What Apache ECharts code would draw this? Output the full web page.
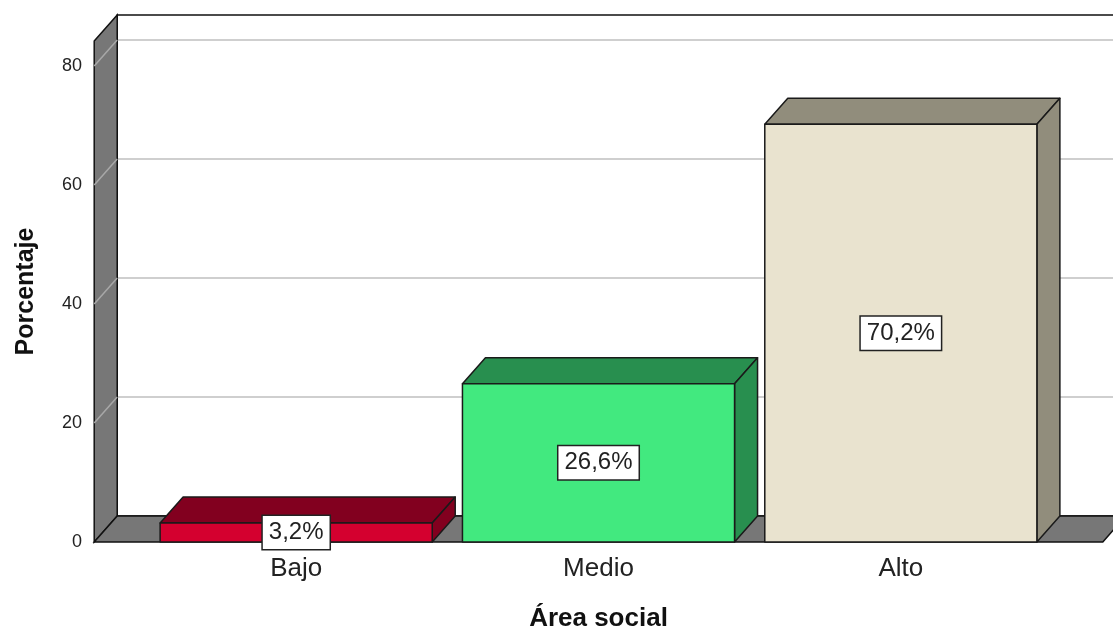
<!DOCTYPE html>
<html>
<head>
<meta charset="utf-8">
<script src="https://cdn.jsdelivr.net/npm/echarts@6/dist/echarts.min.js"></script>
<style>
html,body{margin:0;padding:0;background:#fff;}
#chart{width:1113px;height:630px;}
</style>
</head>
<body>
<div id="chart"></div>
<script>
// ---- data ----
const categories = ['Bajo', 'Medio', 'Alto'];
const percentages = [3.2, 26.6, 70.2];
const yTicks = [0, 20, 40, 60, 80];
const yMax = 84.2;

// ---- styles ----
const FRONT_COLORS = ['#d4002f', '#42e97f', '#e9e3cf'];
const SIDE_COLORS = ['#82001f', '#288f4f', '#918d7c'];
const WALL_COLOR = '#777777';
const DEPTH_X = 23, DEPTH_Y = 26;
const WALL_PAD = 0.168;   // wall overhang beyond the outer categories, in category bands
const BAR_FRAC = 0.9;
const FONT = '"Liberation Sans", Arial, sans-serif';

const chart = echarts.init(document.getElementById('chart'));

function renderWalls(params, api) {
  const cs = params.coordSys;
  const band = api.size([1, 0])[0];
  const pad = band * WALL_PAD;
  const x0 = cs.x - pad, x1 = cs.x + cs.width + pad;
  const yb = api.coord([0, 0])[1];
  const yt = api.coord([0, yMax])[1];
  const dx = DEPTH_X, dy = DEPTH_Y;
  const children = [];
  // back wall
  children.push({type: 'polygon', shape: {points: [[x0 + dx, yt - dy], [x1 + dx + 50, yt - dy], [x1 + dx + 50, yb - dy], [x0 + dx, yb - dy]]},
    style: {fill: '#ffffff', stroke: '#111', lineWidth: 1.5}});
  // grid lines on back wall
  yTicks.forEach(function (t) {
    if (t === 0) return;
    const y = api.coord([0, t])[1];
    children.push({type: 'line', shape: {x1: x0 + dx, y1: y - dy, x2: x1 + dx + 50, y2: y - dy},
      style: {stroke: '#cfcfcf', lineWidth: 2}});
  });
  // left wall
  children.push({type: 'polygon', shape: {points: [[x0, yt], [x0 + dx, yt - dy], [x0 + dx, yb - dy], [x0, yb]]},
    style: {fill: WALL_COLOR, stroke: '#111', lineWidth: 1.5}});
  yTicks.forEach(function (t) {
    if (t === 0) return;
    const y = api.coord([0, t])[1];
    children.push({type: 'line', shape: {x1: x0, y1: y, x2: x0 + dx, y2: y - dy},
      style: {stroke: '#a8a8a8', lineWidth: 1.5}});
  });
  // floor
  children.push({type: 'polygon', shape: {points: [[x0, yb], [x1, yb], [x1 + dx, yb - dy], [x0 + dx, yb - dy]]},
    style: {fill: WALL_COLOR, stroke: '#111', lineWidth: 1.5}});
  return {type: 'group', children: children};
}

function renderBar(params, api) {
  const i = api.value(0);
  const v = api.value(1);
  const band = api.size([1, 0])[0];
  const w = band * BAR_FRAC;
  const base = api.coord([i, 0]);
  const top = api.coord([i, v]);
  const xl = base[0] - w / 2, xr = base[0] + w / 2;
  const yb = base[1], yt = top[1];
  const dx = DEPTH_X, dy = DEPTH_Y;
  const stroke = {stroke: '#1a1a1a', lineWidth: 1.5, lineJoin: 'round'};
  const label = v.toFixed(1).replace('.', ',') + '%';
  return {type: 'group', children: [
    {type: 'polygon', shape: {points: [[xl, yt], [xl + dx, yt - dy], [xr + dx, yt - dy], [xr, yt]]},
      style: Object.assign({fill: SIDE_COLORS[i]}, stroke)},
    {type: 'polygon', shape: {points: [[xr, yt], [xr + dx, yt - dy], [xr + dx, yb - dy], [xr, yb]]},
      style: Object.assign({fill: SIDE_COLORS[i]}, stroke)},
    {type: 'rect', shape: {x: xl, y: yt, width: w, height: yb - yt},
      style: Object.assign({fill: FRONT_COLORS[i]}, stroke)},
    {type: 'text', x: base[0], y: (yt + yb) / 2, z2: 10,
      style: {text: label, fill: '#222', font: '24px ' + FONT, align: 'center', verticalAlign: 'middle',
        backgroundColor: '#ffffff', borderColor: '#222', borderWidth: 1.5, padding: [5, 6, 4, 6]}}
  ]};
}

chart.setOption({
  animation: false,
  backgroundColor: '#ffffff',
  grid: {left: 145, right: 61, top: 41, bottom: 88, containLabel: false, outerBoundsMode: 'none'},
  xAxis: {
    type: 'category', data: categories,
    axisLine: {show: false}, axisTick: {show: false}, splitLine: {show: false},
    axisLabel: {fontSize: 26, color: '#222', fontFamily: FONT, margin: 14},
    name: 'Área social', nameLocation: 'middle', nameGap: 64,
    nameTextStyle: {fontSize: 26, fontWeight: 'bold', color: '#111', fontFamily: FONT}
  },
  yAxis: {
    type: 'value', min: 0, max: yMax, interval: 20,
    axisLine: {show: false}, axisTick: {show: false}, splitLine: {show: false},
    axisLabel: {fontSize: 18, color: '#222', fontFamily: FONT, margin: 63, showMaxLabel: false,
      formatter: function (v) { return yTicks.indexOf(v) >= 0 ? String(v) : ''; }},
    name: 'Porcentaje', nameLocation: 'middle', nameGap: 106, nameRotate: 90,
    nameTextStyle: {fontSize: 25, fontWeight: 'bold', color: '#111', fontFamily: FONT}
  },
  series: [
    {type: 'custom', renderItem: renderWalls, data: [[0, 0]], z: 1, silent: true},
    {type: 'custom', renderItem: renderBar, z: 2, silent: true,
      data: percentages.map(function (v, i) { return [i, v]; })}
  ]
});
</script>
</body>
</html>
